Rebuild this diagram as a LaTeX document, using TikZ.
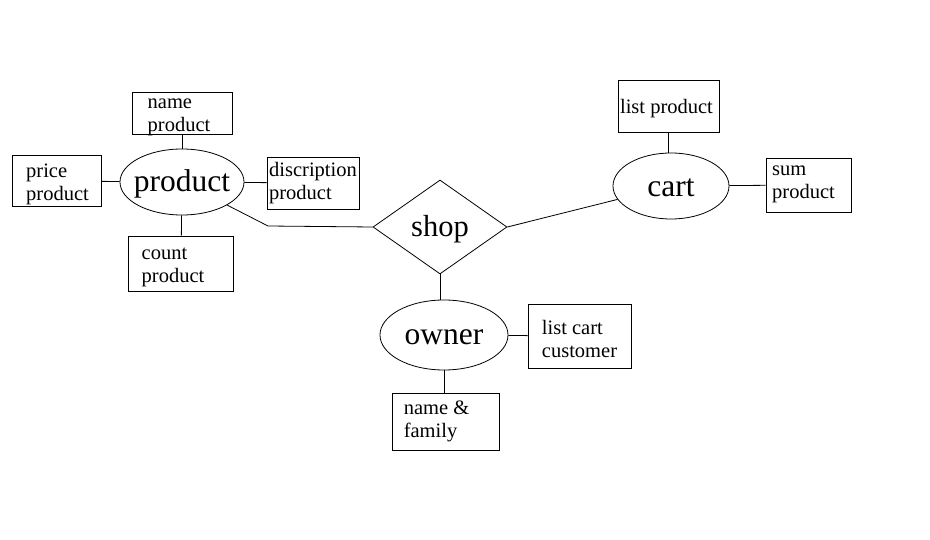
\documentclass[tikz,border=0pt]{standalone}
\usepackage{fontspec}
\setmainfont{Liberation Serif}
\usetikzlibrary{shapes.geometric}
\tikzset{
  attr/.style={draw, rectangle, inner sep=0pt, font=\fontsize{20.5}{23}\selectfont},
  ent/.style={draw, ellipse, inner sep=0pt, font=\fontsize{31.5}{34}\selectfont},
  rel/.style={draw, diamond, inner sep=0pt, font=\fontsize{30.5}{33}\selectfont}
}
\newcommand{\zerow}[1]{\makebox[0pt]{\raisebox{-2pt}[\height][\depth]{#1}}}
% #1 = dx, #2 = dy, #3 = lines
\newcommand{\atxt}[3]{\kern#1\raisebox{#2}[\dimexpr\height-3pt][\dimexpr\depth-3pt]{\begin{tabular}{@{}l@{}}#3\end{tabular}}\kern-#1}
\begin{document}
\begin{tikzpicture}[x=1pt,y=-1pt,line width=0.8pt]
\useasboundingbox (0,0) rectangle (930,540);
\node[ent,minimum width=124pt,minimum height=66pt] (product) at (182,182) {\zerow{product}};
\node[attr,minimum width=100pt,minimum height=42pt] (nameprod) at (182,113) {\atxt{-3pt}{-2pt}{name\\product}};
\node[attr,minimum width=89pt,minimum height=51pt] (priceprod) at (56.5,181) {\atxt{1pt}{-3pt}{price\\product}};
\node[attr,minimum width=92pt,minimum height=52pt] (discprod) at (313,183) {\atxt{0pt}{0pt}{discription\\product}};
\node[attr,minimum width=105pt,minimum height=55pt] (countprod) at (181,263.5) {\atxt{-8pt}{-2.5pt}{count\\product}};
\node[rel,minimum width=134pt,minimum height=94pt] (shop) at (440,227) {\zerow{shop}};
\coordinate (bend) at (268,226);
\node[ent,minimum width=116pt,minimum height=66pt] (cart) at (671,186) {\zerow{cart}};
\node[attr,minimum width=101pt,minimum height=52pt] (listprod) at (668.5,106) {\atxt{-2pt}{-2.5pt}{list product}};
\node[attr,minimum width=85pt,minimum height=54pt] (sumprod) at (808.5,185) {\atxt{-5pt}{3pt}{sum\\product}};
\node[ent,minimum width=128pt,minimum height=70pt] (owner) at (444,335) {\zerow{owner}};
\node[attr,minimum width=103pt,minimum height=64pt] (listcart) at (579.5,336) {\atxt{0pt}{-5pt}{list cart\\customer}};
\node[attr,minimum width=107pt,minimum height=57pt] (namefam) at (445.5,421.5) {\atxt{-9pt}{0pt}{name \&\\family}};
\draw (product) -- (nameprod);
\draw (product) -- (priceprod);
\draw (product) -- (discprod);
\draw (product) -- (countprod);
\draw (product) -- (bend) -- (shop.west);
\draw (shop.east) -- (cart);
\draw (listprod) -- (listprod |- cart.north);
\draw (cart) -- (sumprod);
\draw (shop.south) -- (shop.south |- owner.north);
\draw (owner) -- (listcart);
\draw (owner.south) -- (owner.south |- namefam.north);
\end{tikzpicture}
\end{document}
